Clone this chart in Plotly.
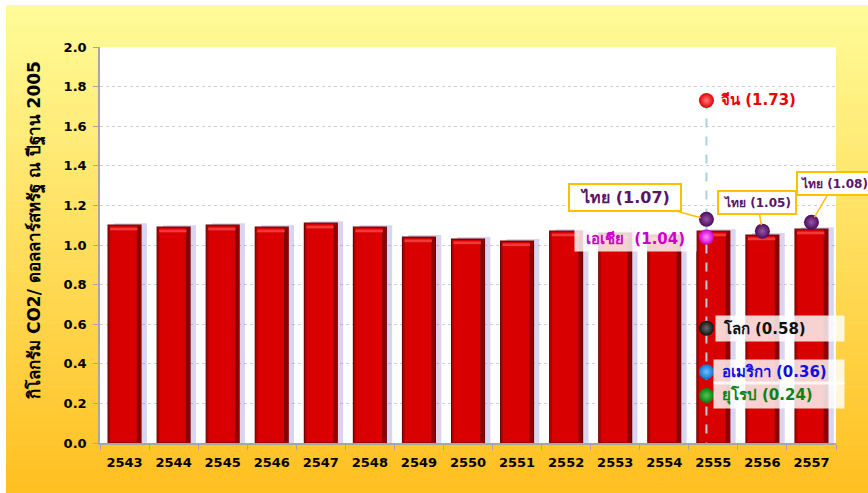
import plotly.graph_objects as go

# ---------------- data ----------------
years = ['2543', '2544', '2545', '2546', '2547', '2548', '2549', '2550',
         '2551', '2552', '2553', '2554', '2555', '2556', '2557']
thai_intensity = [1.10, 1.09, 1.10, 1.09, 1.11, 1.09, 1.04, 1.03,
                  1.02, 1.07, 1.06, 1.05, 1.07, 1.05, 1.08]

# Thai call-outs (years with labelled Thai values)
thai_callout_years = ['2555', '2556', '2557']
thai_callout_values = [1.07, 1.05, 1.08]
thai_callout_labels = ['ไทย (1.07)', 'ไทย (1.05)', 'ไทย (1.08)']

# Regional comparison in 2555
compare_year = '2555'
regions = ['จีน', 'เอเชีย', 'โลก', 'อเมริกา', 'ยุโรป']
region_values = [1.73, 1.04, 0.58, 0.36, 0.24]

y_ticks = [0.0, 0.2, 0.4, 0.6, 0.8, 1.0, 1.2, 1.4, 1.6, 1.8, 2.0]
y_title = 'กิโลกรัม CO2/ ดอลลาร์สหรัฐ ณ ปีฐาน 2005'

# ---------------- styling / layout constants ----------------
W, H = 868, 493
ML, MR, MT, MB = 100, 32, 47, 50
PW, PH = W - ML - MR, H - MT - MB
FONT = "'DejaVu Sans', Tahoma, 'Noto Sans', sans-serif"
BAR_W = 0.67
CALLOUT_DX = -0.14          # marker column shifted slightly left of bar centre
THAI_LIFT = [0.06, 0.02, 0.035]  # markers sit on top of the bars

region_colors = ['#e00000', '#cc00cc', '#111111', '#1470c8', '#0f7a0f']
region_centres = ['#ff7a7a', '#ff8cff', '#6a6a6a', '#70c0ff', '#50c850']
region_text = ['#ee0000', '#cc00cc', '#111111', '#1010e0', '#108010']

xi = list(range(len(years)))
cx = years.index(compare_year) + CALLOUT_DX

fig = go.Figure()

# bar shadow
fig.add_trace(go.Bar(
    x=xi, y=[v + 0.01 for v in thai_intensity], width=BAR_W, offset=-BAR_W / 2 + 0.12,
    marker=dict(color='rgba(120,100,200,0.28)', line=dict(width=0)),
    hoverinfo='skip'))
# bars
fig.add_trace(go.Bar(
    x=xi, y=thai_intensity, width=BAR_W, offset=-BAR_W / 2,
    marker=dict(color='#d80000', line=dict(color='#6e0000', width=1.2)),
    name='ไทย'))
# bevel: dark right edge
fig.add_trace(go.Bar(
    x=xi, y=[v - 0.012 for v in thai_intensity], width=0.07, offset=BAR_W / 2 - 0.085,
    base=0.006, marker=dict(color='rgba(110,0,0,0.75)', line=dict(width=0)),
    hoverinfo='skip'))
# bevel: darker left edge
fig.add_trace(go.Bar(
    x=xi, y=[v - 0.012 for v in thai_intensity], width=0.035, offset=-BAR_W / 2 + 0.012,
    base=0.006, marker=dict(color='rgba(150,0,0,0.6)', line=dict(width=0)),
    hoverinfo='skip'))
# bevel: top highlight
fig.add_trace(go.Bar(
    x=xi, y=[0.014] * len(years), base=[v - 0.026 for v in thai_intensity],
    width=BAR_W - 0.11, offset=-BAR_W / 2 + 0.04,
    marker=dict(color='#f03a3a', line=dict(width=0)), hoverinfo='skip'))

# dashed comparison line
fig.add_trace(go.Scatter(
    x=[cx, cx], y=[max(region_values), 0], mode='lines',
    line=dict(color='#a6d4dc', width=2, dash='dash'), hoverinfo='skip'))

# regional markers
fig.add_trace(go.Scatter(
    x=[cx] * len(regions), y=region_values, mode='markers',
    marker=dict(size=15, color=region_colors,
                gradient=dict(type='radial', color=region_centres),
                line=dict(width=0)),
    text=regions, hoverinfo='text+y'))

# Thai markers
thai_x = [years.index(y) for y in thai_callout_years]
thai_x[0] = thai_x[0] + CALLOUT_DX
thai_y = [v + l for v, l in zip(thai_callout_values, THAI_LIFT)]
fig.add_trace(go.Scatter(
    x=thai_x, y=thai_y, mode='markers',
    marker=dict(size=15, color='#4a0a58',
                gradient=dict(type='radial', color='#9a55aa'),
                line=dict(width=0)),
    hoverinfo='y'))

# ---------------- annotations ----------------
ann = []
# China
ann.append(dict(x=cx, y=region_values[0], text=f'<b>{regions[0]} ({region_values[0]:.2f})</b>',
                showarrow=False, xanchor='left', xshift=13,
                font=dict(size=15, color=region_text[0], family=FONT)))
# Asia
ann.append(dict(x=cx, y=region_values[1], text=f'<b>{regions[1]}  ({region_values[1]:.2f})</b>',
                showarrow=False, xanchor='right', xshift=-9, yshift=-2,
                bgcolor='rgba(255,255,255,0.82)', borderpad=3, width=115,
                font=dict(size=15, color=region_text[1], family=FONT)))
# World / America / Europe
for i, bw in zip([2, 3, 4], [122, 124, 124]):
    ann.append(dict(x=cx, y=region_values[i],
                    text=f'\u00a0<b>{regions[i]} ({region_values[i]:.2f})</b>',
                    showarrow=False, xanchor='left', xshift=9 if i == 2 else 7,
                    align='left', width=bw, borderpad=3,
                    bgcolor='rgba(255,255,255,0.82)',
                    font=dict(size=15, color=region_text[i], family=FONT)))
# Thai call-outs
thai_box = [dict(ax=-81, ay=-22, size=16, w=104),
            dict(ax=-5, ay=-29, size=12, w=70),
            dict(ax=23, ay=-39, size=12, w=66)]
for xx, yy, lab, b in zip(thai_x, thai_y, thai_callout_labels, thai_box):
    ann.append(dict(x=xx, y=yy, text=f'<b>{lab}</b>', showarrow=True,
                    ax=b['ax'], ay=b['ay'], arrowhead=0, arrowwidth=1.5,
                    arrowcolor='#ffc000', standoff=6,
                    bgcolor='white', bordercolor='#ffc000', borderwidth=2,
                    borderpad=3, width=b['w'],
                    font=dict(size=b['size'], color='#5a1468', family=FONT)))
# y-axis title
ann.append(dict(xref='paper', yref='paper', x=(35 - ML) / PW, y=(H - MB - 230) / PH,
                text=f'<b>{y_title}</b>', textangle=-90, showarrow=False,
                xanchor='center', yanchor='middle',
                font=dict(size=17, color='black', family=FONT)))

# ---------------- background gradient ----------------
shapes = []
top_c = (255, 251, 152)
bot_c = (255, 192, 32)
N = 60
y_top_px, y_bot_px = 5, H
for k in range(N):
    t = (k + 0.5) / N
    c = tuple(int(round(a + (b - a) * t)) for a, b in zip(top_c, bot_c))
    py0 = y_top_px + (y_bot_px - y_top_px) * k / N
    py1 = y_top_px + (y_bot_px - y_top_px) * (k + 1) / N + 0.6
    shapes.append(dict(type='rect', xref='paper', yref='paper', layer='below',
                       x0=(6 - ML) / PW, x1=(W + 2 - ML) / PW,
                       y0=(H - MB - py1) / PH, y1=(H - MB - py0) / PH,
                       fillcolor='rgb(%d,%d,%d)' % c, line=dict(width=0)))
shapes.append(dict(type='rect', xref='paper', yref='paper', layer='below',
                   x0=0, x1=1, y0=0, y1=1, fillcolor='white', line=dict(width=0)))

fig.update_layout(
    width=W, height=H,
    margin=dict(l=ML, r=MR, t=MT, b=MB, pad=0),
    paper_bgcolor='white', plot_bgcolor='white',
    barmode='overlay', showlegend=False,
    font=dict(family=FONT, color='black'),
    shapes=shapes, annotations=ann,
    xaxis=dict(range=[-0.5, len(years) - 0.5], tickmode='array', tickvals=xi,
               ticktext=[f'<b>{y}</b>' for y in years], ticks='', showgrid=False,
               showline=True, linecolor='#a6a6a6', linewidth=1.5, zeroline=False,
               ticklabelstandoff=7,
               tickfont=dict(size=13, color='black', family=FONT),
               minor=dict(tickmode='array', tickvals=[i - 0.5 for i in range(len(years) + 1)],
                          ticks='outside', ticklen=5, tickcolor='#a6a6a6', showgrid=False),
               fixedrange=True),
    yaxis=dict(range=[0, 2.0], tickmode='array', tickvals=y_ticks,
               ticktext=[f'<b>{v:.1f}</b>' for v in y_ticks],
               ticks='outside', ticklen=5, tickcolor='#a6a6a6',
               showline=True, linecolor='#a6a6a6', linewidth=1.5,
               showgrid=True, gridcolor='#cfcfcf', griddash='dot', gridwidth=1,
               zeroline=False, ticklabelstandoff=4,
               tickfont=dict(size=13, color='black', family=FONT),
               fixedrange=True),
)

fig.write_html('out.html', config={'displayModeBar': False},
               post_script="document.body.style.margin='0px';")
